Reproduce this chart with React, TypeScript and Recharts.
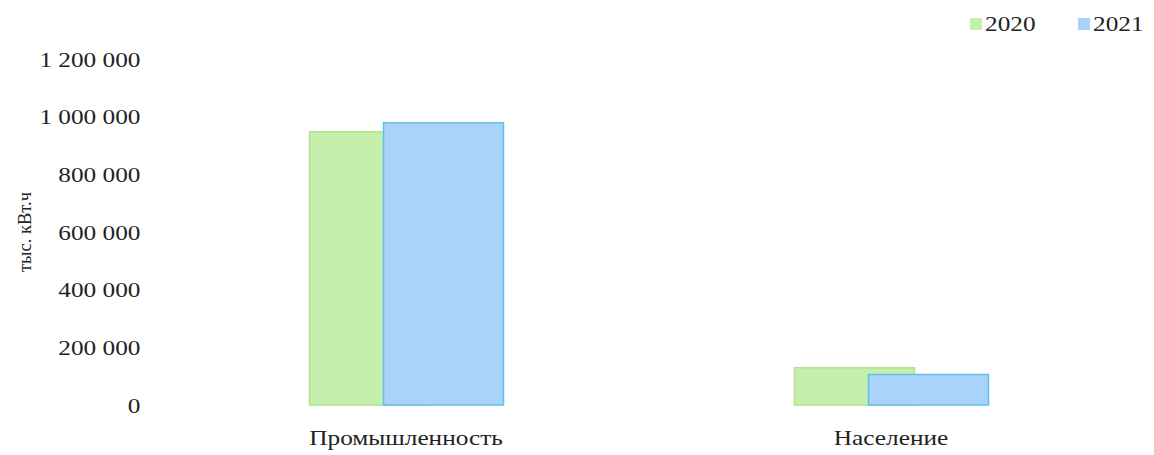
import React from 'react';
import { BarChart, Bar, XAxis, YAxis, Legend } from 'recharts';

const categories = ['Промышленность', 'Население'];
const values2020 = [948000, 129000];
const values2021 = [979000, 106000];
const yTicks = [0, 200000, 400000, 600000, 800000, 1000000, 1200000];
const seriesNames = ['2020', '2021'];

const data = categories.map((c, i) => ({ name: c, y2020: values2020[i], y2021: values2021[i] }));

const FONT = '"Liberation Serif", "Times New Roman", serif';
const TEXT = '#222';
const SX = 1.15;

const fmt = (v: number) => String(v).replace(/\B(?=(\d{3})+(?!\d))/g, ' ');

const YTick = (props: any) => {
  const { x, y, payload } = props;
  return (
    <text transform={`translate(${x},${y}) scale(${SX},1)`} textAnchor="end" dy="0.35em" fontSize={22} fontFamily={FONT} fill={TEXT}>
      {fmt(payload.value)}
    </text>
  );
};

const XTick = (props: any) => {
  const { x, y, payload } = props;
  return (
    <text transform={`translate(${x},${y}) scale(${SX},1)`} textAnchor="middle" dy={40} fontSize={22} fontFamily={FONT} fill={TEXT}>
      {payload.value}
    </text>
  );
};

const YLabel = (props: any) => {
  const vb = props.viewBox || {};
  const cx = (vb.x || 0) + 25;
  const cy = (vb.y || 0) + (vb.height || 0) / 2;
  return (
    <text x={cx} y={cy} transform={`rotate(-90,${cx},${cy})`} textAnchor="middle" dy="0.35em" fontSize={18.5} fontFamily={FONT} fill={TEXT}>
      тыс. кВт.ч
    </text>
  );
};

const GREEN = '#c4eeaa';
const GREEN_STROKE = '#b3e192';
const BLUE = '#a9d3f8';
const BLUE_STROKE = '#5ebff0';

const LegendContent = (props: any) => {
  const payload = props.payload || [];
  const lefts = [970, 1078];
  return (
    <div style={{ position: 'relative', width: 1154, height: 0, overflow: 'visible' }}>
      {payload.map((p: any, i: number) => (
        <div key={p.value} style={{ position: 'absolute', left: lefts[i], top: 13, display: 'flex', alignItems: 'center' }}>
          <span style={{ display: 'inline-block', width: 12, height: 12, background: p.color, marginRight: 3 }} />
          <span style={{ display: 'inline-block', fontFamily: FONT, fontSize: 22, color: TEXT, transform: `scaleX(${SX})`, transformOrigin: 'left center', lineHeight: '22px' }}>
            {p.value}
          </span>
        </div>
      ))}
    </div>
  );
};

export default function App() {
  return (
    <div style={{ position: 'absolute', left: 0, top: 0, width: 1154, height: 455, background: '#fff' }}>
      <BarChart width={1154} height={455} data={data} margin={{ top: 59, right: 20.5, bottom: 0, left: 0 }} barSize={120} barGap={-46}>
        <XAxis dataKey="name" axisLine={false} tickLine={false} tickSize={0} tickMargin={0} height={50} tick={<XTick />} interval={0} />
        <YAxis domain={[0, 1200000]} ticks={yTicks} axisLine={false} tickLine={false} tickSize={0} tickMargin={23} width={163.5} tick={<YTick />} interval={0} label={<YLabel />} />
        <Legend verticalAlign="top" align="left" height={0} wrapperStyle={{ top: 0, left: 0, width: 1154, height: 0 }} content={<LegendContent />} />
        <Bar dataKey="y2020" name={seriesNames[0]} fill={GREEN} stroke={GREEN_STROKE} strokeWidth={1.5} isAnimationActive={false} />
        <Bar dataKey="y2021" name={seriesNames[1]} fill={BLUE} stroke={BLUE_STROKE} strokeWidth={1.5} isAnimationActive={false} />
      </BarChart>
    </div>
  );
}
